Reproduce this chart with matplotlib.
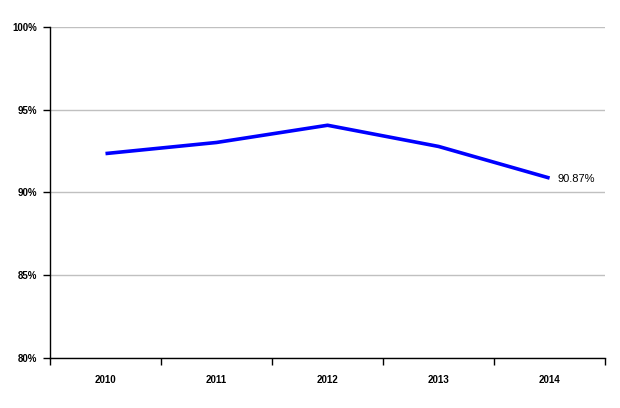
import matplotlib
matplotlib.use("Agg")
import matplotlib.pyplot as plt

years = ["2010", "2011", "2012", "2013", "2014"]
rate = [92.35, 93.02, 94.06, 92.78, 90.87]

plt.rcParams["font.family"] = ["Liberation Sans", "DejaVu Sans"]

fig = plt.figure(figsize=(6.2, 4.08), dpi=100)
ax = fig.add_axes([0.0806, 0.1225, 0.8954, 0.8115])

xs = list(range(len(years)))
ax.plot(xs, rate, color="#0000ff", lw=2.6, solid_capstyle="butt")
ax.annotate(f"{rate[-1]:.2f}%", (xs[-1], rate[-1]), xytext=(6, -1),
            textcoords="offset points", va="center", ha="left", fontsize=8)

ax.set_xlim(-0.5, len(years) - 0.5)
ax.set_ylim(80, 100)
ax.set_yticks([80, 85, 90, 95, 100])
ax.set_yticklabels([f"{v}%" for v in [80, 85, 90, 95, 100]],
                   fontsize=7, fontweight="bold", fontstretch="condensed")
ax.yaxis.grid(True, color="#c0c0c0", lw=1)
ax.set_axisbelow(True)

# category labels between the separator ticks
ax.set_xticks([x - 0.5 for x in range(len(years) + 1)])
ax.set_xticklabels([])
ax.set_xticks(xs, minor=True)
ax.set_xticklabels(years, minor=True, fontsize=7, fontweight="bold")
ax.tick_params(axis="x", which="minor", length=0, pad=12)
ax.tick_params(axis="x", which="major", length=5, width=1, direction="out")
ax.tick_params(axis="y", length=5, width=1, direction="out", pad=4)

for side in ("top", "right"):
    ax.spines[side].set_visible(False)
for side in ("left", "bottom"):
    ax.spines[side].set_linewidth(1)
    ax.spines[side].set_color("black")

fig.savefig("out.png", dpi=100)
